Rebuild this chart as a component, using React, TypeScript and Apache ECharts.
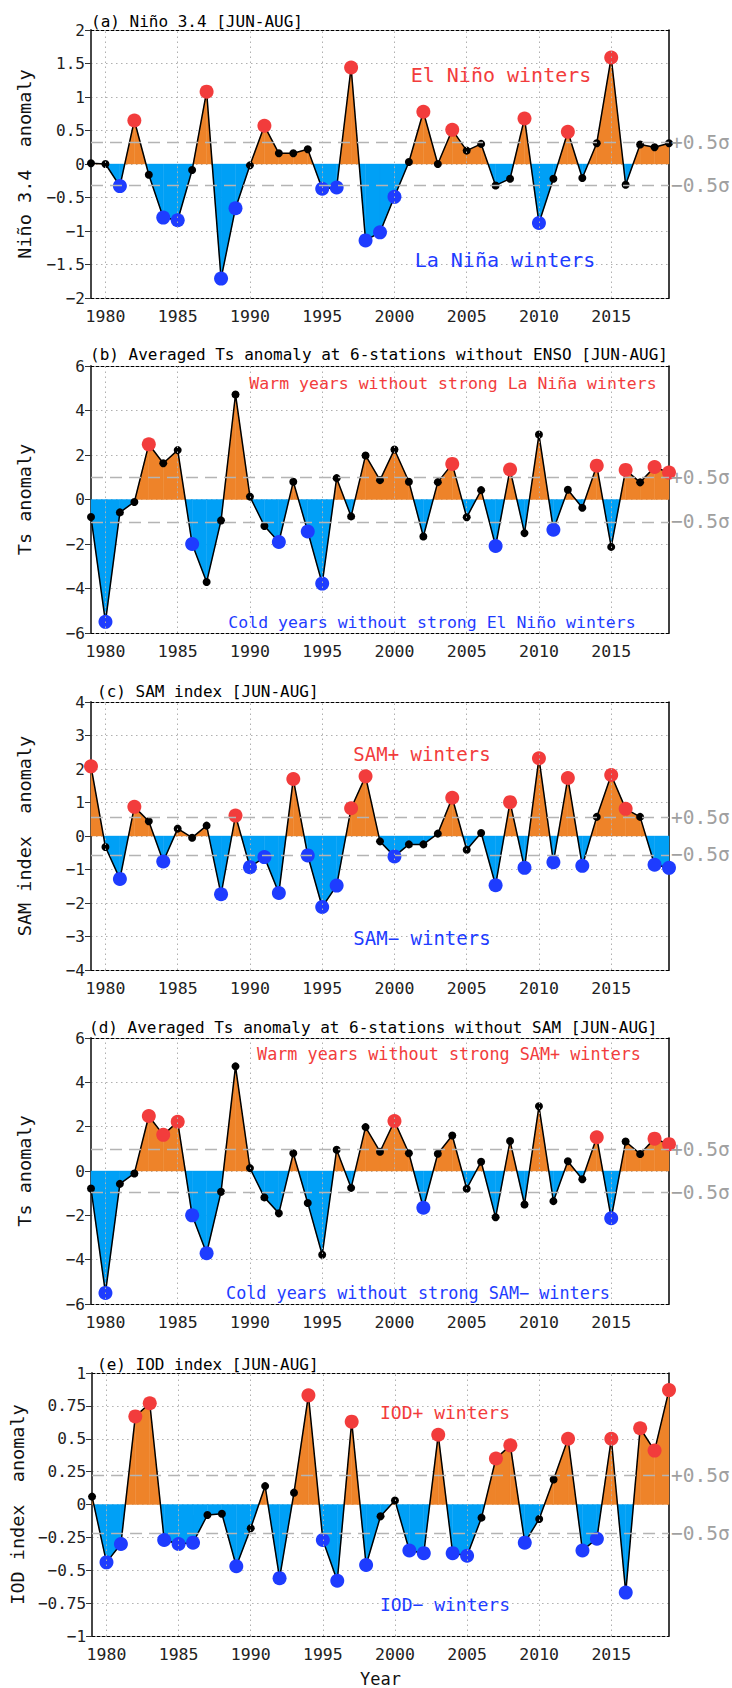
import React, { useEffect, useRef } from "react";
import * as echarts from "echarts";

const years = [
  1979, 1980, 1981, 1982, 1983, 1984, 1985, 1986, 1987, 1988, 1989, 1990, 1991, 1992,
  1993, 1994, 1995, 1996, 1997, 1998, 1999, 2000, 2001, 2002, 2003, 2004, 2005, 2006,
  2007, 2008, 2009, 2010, 2011, 2012, 2013, 2014, 2015, 2016, 2017, 2018, 2019,
];
const gridYears = [1980, 1985, 1990, 1995, 2000, 2005, 2010, 2015];

const nino34 = [
  0.01, 0.0, -0.33, 0.65, -0.16, -0.8, -0.84, -0.09, 1.08, -1.71, -0.66, -0.02, 0.57, 0.16,
  0.16, 0.22, -0.37, -0.35, 1.44, -1.14, -1.02, -0.49, 0.03, 0.78, 0.0, 0.51, 0.2, 0.3,
  -0.32, -0.22, 0.68, -0.88, -0.22, 0.48, -0.21, 0.31, 1.59, -0.31, 0.29, 0.25, 0.31,
];
const nino34Class = [
  "k", "k", "b", "r", "k", "b", "b", "k", "r", "b", "b", "k", "r", "k",
  "k", "k", "b", "b", "r", "b", "b", "b", "k", "r", "k", "r", "k", "k",
  "k", "k", "r", "b", "k", "r", "k", "k", "r", "k", "k", "k", "k",
];

const tsAnom = [
  -0.79, -5.5, -0.58, -0.11, 2.48, 1.63, 2.22, -2.0, -3.71, -0.94, 4.72, 0.13, -1.19, -1.91,
  0.8, -1.44, -3.78, 0.96, -0.76, 1.98, 0.87, 2.25, 0.8, -1.66, 0.78, 1.6, -0.8, 0.42,
  -2.09, 1.35, -1.51, 2.92, -1.36, 0.44, -0.37, 1.52, -2.13, 1.33, 0.77, 1.46, 1.21,
];
const tsClassENSO = [
  "k", "b", "k", "k", "r", "k", "k", "b", "k", "k", "k", "k", "k", "b",
  "k", "b", "b", "k", "k", "k", "k", "k", "k", "k", "k", "r", "k", "k",
  "b", "r", "k", "k", "b", "k", "k", "r", "k", "r", "k", "r", "r",
];
const tsClassSAM = [
  "k", "b", "k", "k", "r", "r", "r", "b", "b", "k", "k", "k", "k", "k",
  "k", "k", "k", "k", "k", "k", "k", "r", "k", "b", "k", "k", "k", "k",
  "k", "k", "k", "k", "k", "k", "k", "r", "b", "k", "k", "r", "r",
];

const samIndex = [
  2.08, -0.33, -1.28, 0.87, 0.44, -0.76, 0.22, -0.05, 0.31, -1.74, 0.61, -0.93, -0.63, -1.7,
  1.7, -0.58, -2.12, -1.48, 0.83, 1.78, -0.16, -0.61, -0.25, -0.25, 0.07, 1.14, -0.41, 0.09,
  -1.47, 1.01, -0.95, 2.32, -0.78, 1.73, -0.89, 0.57, 1.82, 0.81, 0.57, -0.86, -0.95,
];
const samClass = [
  "r", "k", "b", "r", "k", "b", "k", "k", "k", "b", "r", "b", "b", "b",
  "r", "b", "b", "b", "r", "r", "k", "b", "k", "k", "k", "r", "k", "k",
  "b", "r", "b", "r", "b", "r", "b", "k", "r", "r", "k", "b", "b",
];

const iodIndex = [
  0.06, -0.44, -0.3, 0.67, 0.77, -0.27, -0.3, -0.29, -0.08, -0.07, -0.47, -0.18, 0.14, -0.56,
  0.09, 0.83, -0.27, -0.58, 0.63, -0.46, -0.09, 0.03, -0.35, -0.37, 0.53, -0.37, -0.39, -0.1,
  0.35, 0.45, -0.29, -0.11, 0.19, 0.5, -0.35, -0.26, 0.5, -0.67, 0.58, 0.41, 0.87,
];
const iodClass = [
  "k", "b", "b", "r", "r", "b", "b", "b", "k", "k", "b", "k", "k", "b",
  "k", "r", "b", "b", "r", "b", "k", "k", "b", "b", "r", "b", "b", "k",
  "r", "r", "b", "k", "k", "r", "b", "b", "r", "b", "r", "r", "r",
];

const RED = "#f23c3c";
const BLUE = "#1e3cff";
const ORANGE = "#ee8329";
const SKY = "#00a0f6";
const FONT = '"DejaVu Sans Mono", monospace';

const panels = [
  {
    title: "(a) Niño 3.4 [JUN-AUG]", titleX: 91, titleY: 21,
    yName: "Niño 3.4  anomaly", values: nino34, cls: nino34Class,
    min: -2, max: 2, interval: 0.5, sigma: 0.32, top: 30, height: 268,
    notes: [
      { text: "El Niño winters", x: 501, y: 75, color: RED, size: 20 },
      { text: "La Niña winters", x: 505, y: 260, color: BLUE, size: 20 },
    ],
  },
  {
    title: "(b) Averaged Ts anomaly at 6-stations without ENSO [JUN-AUG]", titleX: 90, titleY: 354,
    yName: "Ts anomaly", values: tsAnom, cls: tsClassENSO,
    min: -6, max: 6, interval: 2, sigma: 1.0, top: 366, height: 267,
    notes: [
      { text: "Warm years without strong La Niña winters", x: 453, y: 383, color: RED, size: 16.5 },
      { text: "Cold years without strong El Niño winters", x: 432, y: 622, color: BLUE, size: 16.5 },
    ],
  },
  {
    title: "(c) SAM index [JUN-AUG]", titleX: 97, titleY: 691,
    yName: "SAM index  anomaly", values: samIndex, cls: samClass,
    min: -4, max: 4, interval: 1, sigma: 0.56, top: 702, height: 268,
    notes: [
      { text: "SAM+ winters", x: 422, y: 754, color: RED, size: 19 },
      { text: "SAM− winters", x: 422, y: 938, color: BLUE, size: 19 },
    ],
  },
  {
    title: "(d) Averaged Ts anomaly at 6-stations without SAM [JUN-AUG]", titleX: 89, titleY: 1027,
    yName: "Ts anomaly", values: tsAnom, cls: tsClassSAM,
    min: -6, max: 6, interval: 2, sigma: 0.98, top: 1038, height: 266,
    notes: [
      { text: "Warm years without strong SAM+ winters", x: 449, y: 1054, color: RED, size: 16.8 },
      { text: "Cold years without strong SAM− winters", x: 418, y: 1293, color: BLUE, size: 16.8 },
    ],
  },
  {
    title: "(e) IOD index [JUN-AUG]", titleX: 97, titleY: 1364,
    yName: "IOD index  anomaly", values: iodIndex, cls: iodClass,
    min: -1, max: 1, interval: 0.25, sigma: 0.22, top: 1373, height: 267,
    notes: [
      { text: "IOD+ winters", x: 445, y: 1412, color: RED, size: 18 },
      { text: "IOD− winters", x: 445, y: 1604, color: BLUE, size: 18 },
    ],
  },
];

function buildOption() {
  const grid: any[] = [];
  const xAxis: any[] = [];
  const yAxis: any[] = [];
  const series: any[] = [];
  const graphic: any[] = [];

  panels.forEach((p, i) => {
    grid.push({ left: 91, right: 63, top: p.top, height: p.height });
    xAxis.push({
      gridIndex: i, type: "value", min: 1979, max: 2019, interval: 1, position: "bottom",
      axisLine: { show: true, onZero: false, lineStyle: { color: "#000", type: [3, 2], width: 1 } },
      axisTick: { show: false }, splitLine: { show: false },
      axisLabel: {
        margin: 10, fontFamily: FONT, fontSize: 16.5, color: "#222",
        formatter: (v: number) => (v % 5 === 0 && v < 2019 ? String(v) : ""),
      },
      name: i === 4 ? "Year" : "", nameLocation: "middle", nameGap: 34,
      nameTextStyle: { fontFamily: FONT, fontSize: 17, color: "#111" },
    });
    xAxis.push({
      gridIndex: i, type: "value", min: 1979, max: 2019, position: "top",
      axisLine: { show: true, onZero: false, lineStyle: { color: "#000", type: [3, 2], width: 1 } },
      axisTick: { show: false }, axisLabel: { show: false }, splitLine: { show: false },
    });
    yAxis.push({
      gridIndex: i, type: "value", min: p.min, max: p.max, interval: p.interval, position: "left",
      axisLine: { show: true, onZero: false, lineStyle: { color: "#333", width: 1.8 } },
      axisTick: { show: true, inside: false, length: 6, lineStyle: { color: "#333", width: 1 } },
      axisLabel: {
        margin: 6, fontFamily: FONT, fontSize: 16, color: "#222",
        formatter: (v: number) => String(v).replace("-", "−"),
      },
      splitLine: { show: true, lineStyle: { color: "#b0b0b0", type: [1.5, 3.5], width: 1 } },
      name: p.yName, nameLocation: "middle", nameGap: 57, nameRotate: 90,
      nameTextStyle: { fontFamily: FONT, fontSize: 18.5, color: "#111" },
    });
    yAxis.push({
      gridIndex: i, type: "value", min: p.min, max: p.max, position: "right",
      axisLine: { show: true, onZero: false, lineStyle: { color: "#000", width: 1.5 } },
      axisTick: { show: false }, axisLabel: { show: false }, splitLine: { show: false },
    });

    const pts = years.map((y, k) => [y, p.values[k]]);
    const segs = years.slice(0, -1).map((y, k) => [y, p.values[k], years[k + 1], p.values[k + 1]]);
    const sigmaLabel = (t: string) => ({
      show: true, position: "end", formatter: t, color: "#a0a0a0",
      fontFamily: FONT, fontSize: 19.5, distance: 2,
    });
    const sigmaLine = { color: "#b4b4b4", type: [12, 7], width: 1.3 };

    series.push({
      type: "line", xAxisIndex: 2 * i, yAxisIndex: 2 * i, data: pts, silent: true, z: 1,
      showSymbol: false, symbol: "none", lineStyle: { opacity: 0 },
      markLine: {
        silent: true, symbol: ["none", "none"], animation: false,
        data: [
          ...gridYears.map((gy) => ({
            xAxis: gy, label: { show: false },
            lineStyle: { color: "#b0b0b0", type: [1.5, 3.5], width: 1 },
          })),
          { yAxis: p.sigma, lineStyle: sigmaLine, label: sigmaLabel("+0.5σ") },
          { yAxis: -p.sigma, lineStyle: sigmaLine, label: sigmaLabel("−0.5σ") },
        ],
      },
    });

    series.push({
      type: "custom", xAxisIndex: 2 * i, yAxisIndex: 2 * i, z: 2, silent: true,
      encode: { x: [0, 2], y: [1, 3] }, data: segs,
      renderItem: (params: any, api: any) => {
        const x0 = api.value(0), y0 = api.value(1), x1 = api.value(2), y1 = api.value(3);
        const p0 = api.coord([x0, y0]);
        const p1 = api.coord([x1, y1]);
        const b0 = api.coord([x0, 0]);
        const b1 = api.coord([x1, 0]);
        const col = (v: number) => (v >= 0 ? ORANGE : SKY);
        const children: any[] = [];
        if ((y0 >= 0 && y1 >= 0) || (y0 <= 0 && y1 <= 0)) {
          const c = col(y0 + y1);
          children.push({ type: "polygon", shape: { points: [b0, p0, p1, b1] }, style: { fill: c, stroke: c, lineWidth: 0.4 } });
        } else {
          const t = y0 / (y0 - y1);
          const cp = [p0[0] + t * (p1[0] - p0[0]), b0[1]];
          children.push({ type: "polygon", shape: { points: [b0, p0, cp] }, style: { fill: col(y0), stroke: col(y0), lineWidth: 0.4 } });
          children.push({ type: "polygon", shape: { points: [cp, p1, b1] }, style: { fill: col(y1), stroke: col(y1), lineWidth: 0.4 } });
        }
        return { type: "group", children };
      },
    });

    series.push({
      type: "line", xAxisIndex: 2 * i, yAxisIndex: 2 * i, data: pts, z: 3, silent: true,
      symbol: "none", lineStyle: { color: "#000", width: 1.5 },
    });

    series.push({
      type: "scatter", xAxisIndex: 2 * i, yAxisIndex: 2 * i, z: 4, silent: true, clip: true,
      data: pts.map((pt, k) => ({
        value: pt,
        symbolSize: p.cls[k] === "k" ? 8 : 14,
        itemStyle: { color: p.cls[k] === "r" ? RED : p.cls[k] === "b" ? BLUE : "#000", opacity: 1 },
      })),
    });

    graphic.push({
      type: "text", x: p.titleX, y: p.titleY, silent: true,
      style: {
        text: p.title, fill: "#000", fontFamily: FONT, fontSize: 16,
        textAlign: "left", textVerticalAlign: "middle", align: "left", verticalAlign: "middle",
      },
    });
    p.notes.forEach((n) => {
      graphic.push({
        type: "text", x: n.x, y: n.y, silent: true, z: 10,
        style: {
          text: n.text, fill: n.color, fontFamily: FONT, fontSize: n.size,
          textAlign: "center", textVerticalAlign: "middle", align: "center", verticalAlign: "middle",
        },
      });
    });
  });

  return { animation: false, backgroundColor: "#fff", grid, xAxis, yAxis, series, graphic };
}

export default function App() {
  const ref = useRef<HTMLDivElement>(null);
  useEffect(() => {
    if (!ref.current) return;
    const chart = echarts.init(ref.current, undefined, { renderer: "svg" });
    chart.setOption(buildOption() as any);
    return () => chart.dispose();
  }, []);
  return (
    <div
      ref={ref}
      style={{ position: "absolute", left: 0, top: 0, width: 732, height: 1688, background: "#fff" }}
    />
  );
}
